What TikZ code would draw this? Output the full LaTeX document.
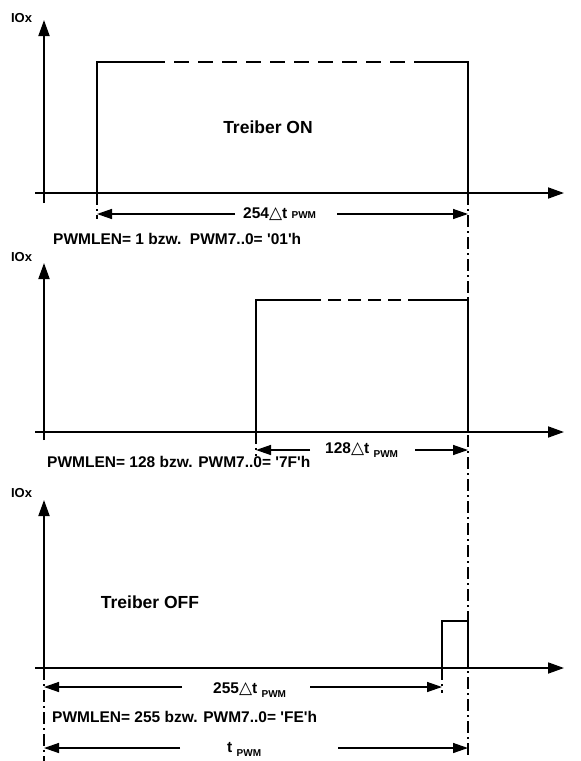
\documentclass[tikz,border=0pt]{standalone}
\usepackage{fontspec}
\setmainfont{Liberation Sans}
\newfontfamily\symfont{DejaVu Sans}
\usetikzlibrary{arrows.meta}
\newcommand{\tq}{\textquotesingle}
\newcommand{\dt}{{\symfont\fontsize{17}{19}\selectfont △}}
\newcommand{\pwmsub}{{\fontsize{10}{12}\selectfont PWM}}
\begin{document}
\begin{tikzpicture}[x=1pt,y=-1pt,
 axis/.style={line width=1.8pt,-{Triangle[length=16pt,width=11pt]}},
 sig/.style={line width=1.8pt},
 sigdash/.style={line width=1.8pt,dash pattern=on 15pt off 9pt},
 dim/.style={line width=1.4pt,-{Triangle[length=15pt,width=10pt]}},
 guide/.style={line width=1.4pt,dash pattern=on 12pt off 4pt on 2pt off 4pt},
 lbl/.style={font=\fontsize{15.5}{18}\selectfont\bfseries,inner sep=0pt,anchor=base west},
 ylbl/.style={font=\fontsize{13}{15}\selectfont\bfseries,inner sep=0pt},
 big/.style={font=\fontsize{17.5}{21}\selectfont\bfseries,inner sep=0pt}]
\useasboundingbox (0,0) rectangle (581,761);

% ---------- guide lines ----------
\coordinate (g1t) at (468,193); \coordinate (g1b) at (468,757);
\draw[guide] (g1t) -- (g1b);
\coordinate (g2t) at (97,193); \coordinate (g2b) at (97,219);
\draw[guide] (g2t) -- (g2b);
\coordinate (g3t) at (256,432); \coordinate (g3b) at (256,456);
\draw[guide] (g3t) -- (g3b);
\coordinate (g4t) at (442,668); \coordinate (g4b) at (442,693);
\draw[guide] (g4t) -- (g4b);
\coordinate (g5t) at (44,668); \coordinate (g5b) at (44,761);
\draw[guide] (g5t) -- (g5b);

% ---------- panel 1 ----------
\coordinate (y1s) at (44,203); \coordinate (y1e) at (44,20);
\draw[axis] (y1s) -- (y1e);
\coordinate (x1s) at (35,193); \coordinate (x1e) at (564,193);
\draw[axis] (x1s) -- (x1e);
\node[ylbl] (io1) at (21.5,18) {IOx};
\coordinate (p1a) at (97,193); \coordinate (p1b) at (97,62);
\coordinate (p1c) at (150,62); \coordinate (p1d) at (417,62);
\coordinate (p1e) at (468,62); \coordinate (p1f) at (468,193);
\draw[sig] (p1a) -- (p1b) -- (p1c);
\draw[sigdash] (p1c) -- (p1d);
\draw[sig] (p1d) -- (p1e) -- (p1f);
\node[big] (on) at (268,127) {Treiber ON};
\node[lbl] (d1) at (243,218) {254\dt t \pwmsub};
\coordinate (d1l) at (235,214); \coordinate (d1le) at (97,214);
\coordinate (d1r) at (337,214); \coordinate (d1re) at (468,214);
\draw[dim] (d1l) -- (d1le);
\draw[dim] (d1r) -- (d1re);
\node[lbl] (t1) at (53,244) {PWMLEN= 1 bzw.\ \ PWM7..0= \tq 01\tq h};

% ---------- panel 2 ----------
\coordinate (y2s) at (44,440); \coordinate (y2e) at (44,263);
\draw[axis] (y2s) -- (y2e);
\coordinate (x2s) at (35,432); \coordinate (x2e) at (564,432);
\draw[axis] (x2s) -- (x2e);
\node[ylbl] (io2) at (21.5,257) {IOx};
\coordinate (p2a) at (256,432); \coordinate (p2b) at (256,300);
\coordinate (p2c) at (308,300); \coordinate (p2d) at (415,300);
\coordinate (p2e) at (468,300); \coordinate (p2f) at (468,432);
\draw[sig] (p2a) -- (p2b) -- (p2c);
\draw[sig,dash pattern=on 13pt off 7pt] (p2c) -- (p2d);
\draw[sig] (p2d) -- (p2e) -- (p2f);
\node[lbl] (d2) at (325,453) {128\dt t \raisebox{-4pt}{\pwmsub}};
\coordinate (d2l) at (310,450); \coordinate (d2le) at (256,450);
\coordinate (d2r) at (415,450); \coordinate (d2re) at (468,450);
\draw[dim] (d2l) -- (d2le);
\draw[dim] (d2r) -- (d2re);
\node[lbl] (t2) at (47,467) {PWMLEN= 128 bzw. PWM7..0= \tq 7F\tq h};

% ---------- panel 3 ----------
\coordinate (y3s) at (44,668); \coordinate (y3e) at (44,500);
\draw[axis] (y3s) -- (y3e);
\coordinate (x3s) at (35,668); \coordinate (x3e) at (564,668);
\draw[axis] (x3s) -- (x3e);
\node[ylbl] (io3) at (21.5,493) {IOx};
\coordinate (p3a) at (442,668); \coordinate (p3b) at (442,621);
\coordinate (p3c) at (468,621); \coordinate (p3d) at (468,668);
\draw[sig] (p3a) -- (p3b) -- (p3c) -- (p3d);
\node[big] (off) at (150,602) {Treiber OFF};
\node[lbl] (d3) at (213,693) {255\dt t \raisebox{-4pt}{\pwmsub}};
\coordinate (d3l) at (182,687); \coordinate (d3le) at (44,687);
\coordinate (d3r) at (310,687); \coordinate (d3re) at (442,687);
\draw[dim] (d3l) -- (d3le);
\draw[dim] (d3r) -- (d3re);
\node[lbl] (t3) at (52,722) {PWMLEN= 255 bzw. PWM7..0= \tq FE\tq h};
\node[lbl] (d4) at (227,752) {t \raisebox{-4pt}{\pwmsub}};
\coordinate (d4l) at (180,748); \coordinate (d4le) at (44,748);
\coordinate (d4r) at (338,748); \coordinate (d4re) at (468,748);
\draw[dim] (d4l) -- (d4le);
\draw[dim] (d4r) -- (d4re);
\end{tikzpicture}
\end{document}
